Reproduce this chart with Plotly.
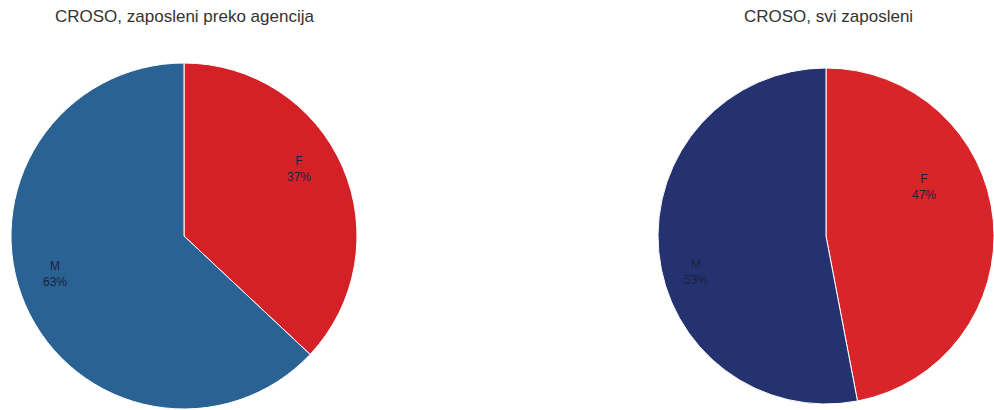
import math
import plotly.graph_objects as go

labels = ["F", "M"]
agency_values = [37, 63]
all_values = [47, 53]
titles = ["CROSO, zaposleni preko agencija", "CROSO, svi zaposleni"]

W, H = 994, 410
MT, MB = 63, 1
PH = H - MT - MB

# style: pie geometry (pixels) and label placement tweaks
pies = [
    dict(values=agency_values, cx=184, r=173, colors=["#d42027", "#2a6294"],
         lab_shift=[-7, 7], lab_rad=[0.77, 0.78], title=titles[0], tx=184),
    dict(values=all_values, cx=826, r=168, colors=["#d92429", "#24326f"],
         lab_shift=[-21, -10], lab_rad=[0.65, 0.80], title=titles[1], tx=828),
]

fig = go.Figure()
cy = MT + PH / 2
for p in pies:
    x0 = max(0, (p["cx"] - p["r"]) / W)
    x1 = min(1, (p["cx"] + p["r"]) / W)
    fig.add_trace(go.Pie(
        labels=labels, values=p["values"], sort=False, direction="clockwise", rotation=0,
        marker=dict(colors=p["colors"], line=dict(color="white", width=1)),
        textinfo="none", domain=dict(x=[x0, x1], y=[0, 1]), showlegend=False,
        hoverinfo="label+percent"))
    # labels placed inside slices, computed from the data
    total = sum(p["values"])
    acc = 0
    cxp = (x0 + x1) / 2 * W
    rp = min((x1 - x0) * W, PH) / 2
    for lab, v, sh, rf in zip(labels, p["values"], p["lab_shift"], p["lab_rad"]):
        mid = (acc + v / 2) / total * 360 + sh
        acc += v
        px = cxp + rf * rp * math.sin(math.radians(mid))
        py = cy - rf * rp * math.cos(math.radians(mid))
        fig.add_annotation(x=px / W, y=(H - MB - py) / PH, xref="paper", yref="paper",
                           text=f"{lab}<br>{round(v / total * 100)}%", showarrow=False,
                           xanchor="center", yanchor="middle", align="center",
                           font=dict(size=12, color="#1c2340", family="Liberation Sans, Arial"))
    fig.add_annotation(x=p["tx"] / W, y=1, xref="paper", yref="paper", xanchor="center",
                       yanchor="middle", yshift=MT - 16, text=p["title"], showarrow=False,
                       font=dict(size=17, color="#333333", family="Liberation Sans, Arial"))

fig.update_layout(width=W, height=H, margin=dict(l=0, r=0, t=MT, b=MB),
                  paper_bgcolor="white", plot_bgcolor="white")
fig.write_html("out.html")
